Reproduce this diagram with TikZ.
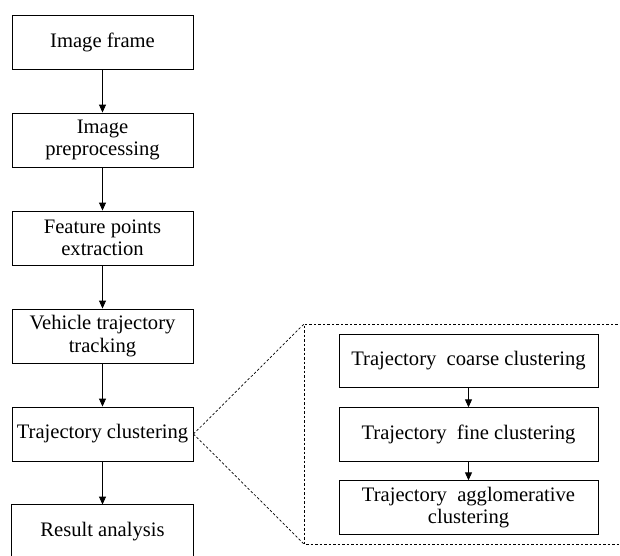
\documentclass[tikz,border=0pt]{standalone}
\usepackage{fontspec}
\setmainfont{Liberation Serif}
\usetikzlibrary{arrows.meta}
\begin{document}
\begin{tikzpicture}[x=1pt,y=-1pt,
  stepbox/.style={draw, line width=0.9pt, minimum width=181pt, minimum height=54pt,
    align=center, inner sep=0pt, font=\fontsize{20.6}{22.5}\selectfont},
  subbox/.style={stepbox, minimum width=259pt, minimum height=53.5pt},
  flow/.style={-{Triangle[length=8pt,width=7pt]}, line width=0.9pt},
  zoomline/.style={dash pattern=on 2.5pt off 2pt, line width=0.7pt}]
\useasboundingbox (0,0) rectangle (620,555);
\clip (0,0) rectangle (620,555);

% main pipeline
\node[stepbox] (frame) at (102.5,42)  {Image frame};
\node[stepbox] (prep)  at (102.5,140) {Image\\preprocessing};
\node[stepbox] (feat)  at (102.5,238) {Feature points\\extraction};
\node[stepbox] (track) at (102.5,336) {Vehicle trajectory\\tracking};
\node[stepbox] (clus)  at (102.5,434) {Trajectory clustering};
\node[stepbox, draw=none] (res) at (102.5,532) {Result analysis};
% the last box runs off the lower edge
\draw[line width=0.9pt] ([yshift=-12pt]res.south west) -- (res.north west)
  -- (res.north east) -- ([yshift=-12pt]res.south east);

\draw[flow] (frame) -- (prep);
\draw[flow] (prep)  -- (feat);
\draw[flow] (feat)  -- (track);
\draw[flow] (track) -- (clus);
\draw[flow] (clus)  -- (res);

% detail of the clustering stage
\coordinate (dtl) at (304,324);
\coordinate (dbl) at (304,544);
\coordinate (dtr) at (640,324);
\coordinate (dbr) at (640,544);
\draw[zoomline] (dtr) -- (dtl) -- (dbl) -- (dbr);
\draw[zoomline] (clus.east) -- (dtl);
\draw[zoomline] (clus.east) -- (dbl);

\node[subbox] (coarse) at (468.5,361)   {Trajectory\ \ coarse clustering};
\node[subbox] (fine)   at (468.5,434.5) {Trajectory\ \ fine clustering};
\node[subbox] (aggl)   at (468.5,507.5) {Trajectory\ \ agglomerative\\clustering};

\draw[flow] (coarse) -- (fine);
\draw[flow] (fine)   -- (aggl);
\end{tikzpicture}
\end{document}
